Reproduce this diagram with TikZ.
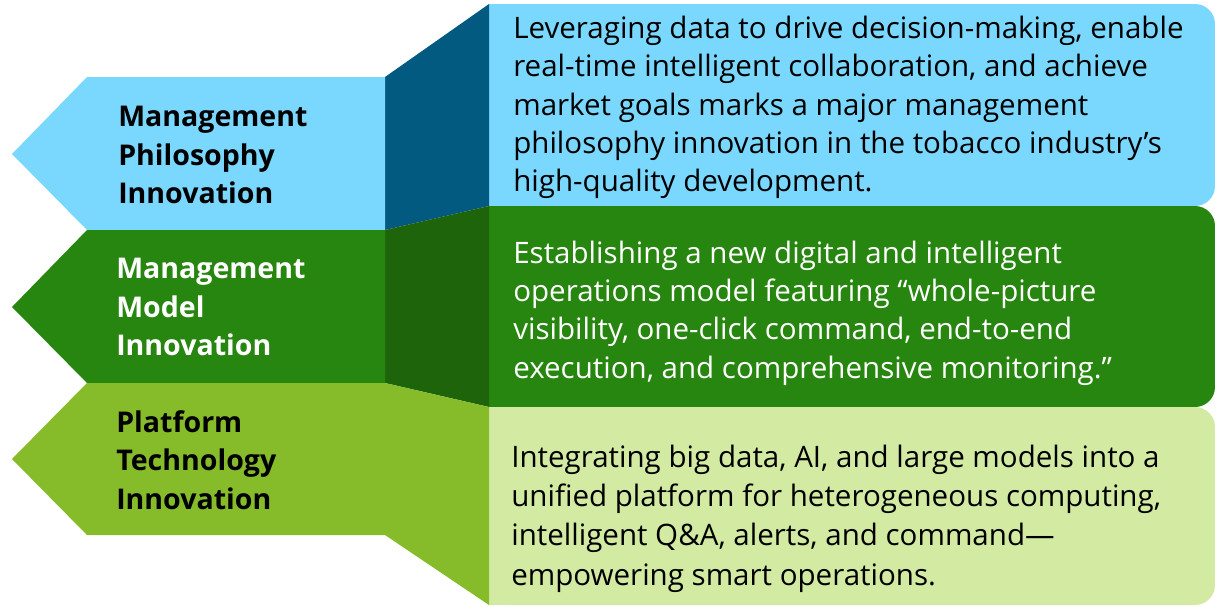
\documentclass[tikz,border=0pt]{standalone}
\usepackage{fontspec}
\setmainfont{Open Sans}
\definecolor{skyblue}{HTML}{7AD7FE}
\definecolor{deepblue}{HTML}{025A80}
\definecolor{leafgreen}{HTML}{27860F}
\definecolor{darkleaf}{HTML}{1E640B}
\definecolor{limegreen}{HTML}{86BC29}
\definecolor{palegreen}{HTML}{D3EAA3}
\begin{document}
\begin{tikzpicture}[
    x=0.025cm, y=-0.025cm,
    tag/.style={anchor=west, align=left, font=\fontsize{20.3}{27.5}\selectfont\bfseries, inner sep=0pt},
    desc/.style={anchor=west, align=left, font=\fontsize{21}{27.2}\selectfont, inner sep=0pt}
]
    \useasboundingbox (0,0) rectangle (1215,606);

    % Right boxes
    \fill[skyblue, rounded corners=0.5cm] (489,4) rectangle (1215,206);
    \fill[skyblue] (489,4) rectangle (900,206);
    \fill[leafgreen, rounded corners=0.5cm] (489,206) rectangle (1215,407);
    \fill[leafgreen] (489,206) rectangle (900,407);
    \fill[palegreen, rounded corners=0.5cm] (489,407) rectangle (1215,605);
    \fill[palegreen] (489,407) rectangle (900,605);

    % Links between arrows and boxes
    \fill[deepblue] (385,77) -- (489,4) -- (489,206) -- (385,230) -- cycle;
    \fill[darkleaf] (385,230) -- (489,206) -- (489,407) -- (385,383) -- cycle;
    \fill[limegreen] (385,383) -- (489,407) -- (489,605) -- (385,535) -- cycle;

    % Left arrows
    \fill[skyblue] (12,154) -- (87,77) -- (385,77) -- (385,230) -- (87,230) -- cycle;
    \fill[leafgreen] (12,307) -- (87,230) -- (385,230) -- (385,383) -- (87,383) -- cycle;
    \fill[limegreen] (12,459) -- (87,383) -- (385,383) -- (385,535) -- (87,535) -- cycle;

    % Titles
    \node[tag] (philo) at (118,155) {Management\\Philosophy\\Innovation};
    \node[tag, text=white] (model) at (116,307) {Management\\Model\\Innovation};
    \node[tag] (tech) at (116,460) {Platform\\Technology\\Innovation};

    % Descriptions
    \node[desc] (philotext) at (513,107.5) {Leveraging data to drive decision-making, enable\\
        real-time intelligent collaboration, and achieve\\
        market goals marks a major management\\
        philosophy innovation in the tobacco industry’s\\
        high-quality development.};
    \node[desc, text=white] (modeltext) at (513,313) {Establishing a new digital and intelligent\\
        operations model featuring “whole-picture\\
        visibility, one-click command, end-to-end\\
        execution, and comprehensive monitoring.”};
    \node[desc, font=\fontsize{21}{28}\selectfont] (techtext) at (511,518.5) {Integrating big data, AI, and large models into a\\
        unified platform for heterogeneous computing,\\
        intelligent Q\&A, alerts, and command—\\
        empowering smart operations.};
\end{tikzpicture}
\end{document}
